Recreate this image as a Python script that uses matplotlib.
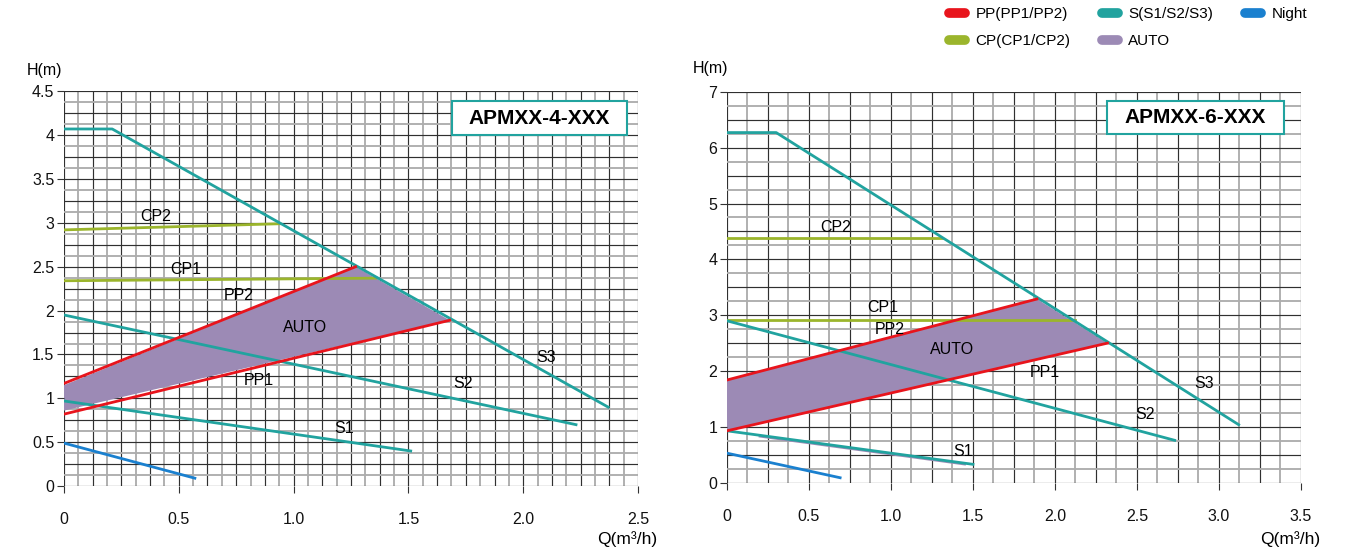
"""Pump performance curves for APMXX-4-XXX and APMXX-6-XXX."""

import matplotlib
matplotlib.use("Agg")
import matplotlib.pyplot as plt
import numpy as np
from matplotlib.lines import Line2D
from matplotlib.patches import Rectangle, Polygon

RED = "#e8141c"
TEAL = "#21a39f"
BLUE = "#1a80cf"
GREEN = "#9bb52c"
PURPLE = "#9c8ab5"

# ---- APMXX-4-XXX ----------------------------------------------------- #
m4_s3_q = [0.0, 0.21, 2.37]
m4_s3_h = [4.07, 4.07, 0.90]
m4_s2_q = [0.0, 2.23]
m4_s2_h = [1.95, 0.70]
m4_s1_q = [0.0, 1.51]
m4_s1_h = [0.97, 0.40]
m4_night_q = [0.0, 0.57]
m4_night_h = [0.49, 0.09]
m4_cp2_q = [0.0, 0.94]
m4_cp2_h = [2.92, 2.99]
m4_cp1_q = [0.0, 1.36]
m4_cp1_h = [2.34, 2.37]
m4_pp2_q = [0.0, 1.27]
m4_pp2_h = [1.17, 2.50]
m4_pp1_q = [0.0, 1.68]
m4_pp1_h = [0.82, 1.89]
m4_auto_q = [0.0, 1.27, 1.68, 0.0]
m4_auto_h = [1.15, 2.50, 1.89, 0.86]

# ---- APMXX-6-XXX ----------------------------------------------------- #
m6_s3_q = [0.0, 0.30, 3.12]
m6_s3_h = [6.27, 6.27, 1.04]
m6_s2_q = [0.0, 2.73]
m6_s2_h = [2.90, 0.76]
m6_s1_q = [0.0, 1.50]
m6_s1_h = [0.93, 0.33]
m6_night_q = [0.0, 0.69]
m6_night_h = [0.53, 0.09]
m6_cp2_q = [0.0, 1.31]
m6_cp2_h = [4.39, 4.39]
m6_cp1_q = [0.0, 2.12]
m6_cp1_h = [2.92, 2.92]
m6_pp2_q = [0.0, 1.89]
m6_pp2_h = [1.84, 3.29]
m6_pp1_q = [0.0, 2.32]
m6_pp1_h = [0.93, 2.50]
m6_auto_q = [0.0, 1.89, 2.32, 0.0]
m6_auto_h = [1.84, 3.29, 2.50, 0.93]
m6_autonight_q = [0.2, 1.45]
m6_autonight_h = [0.83, 0.33]

fig = plt.figure(figsize=(13.5, 5.53), dpi=100)
plt.rcParams["font.family"] = ["Liberation Sans", "DejaVu Sans"]


def setup(ax, xmax, xstep, xmajor, ymax, ystep, ymajor, yticklabels):
    ax.set_xlim(0, xmax)
    ax.set_ylim(0, ymax)
    xs = np.arange(0, xmax + 1e-9, xstep)
    ys = np.arange(0, ymax + 1e-9, ystep)
    for i, x in enumerate(xs):
        c, w = ("#303030", 0.85) if i % 2 == 0 else ("#adadad", 1.35)
        ax.axvline(x, color=c, lw=w, zorder=0)
    for i, y in enumerate(ys):
        c, w = ("#303030", 0.85) if i % 2 == 0 else ("#adadad", 1.35)
        ax.axhline(y, color=c, lw=w, zorder=0)
    for s in ax.spines.values():
        s.set_visible(False)
    xt = np.arange(0, xmax + 1e-9, xmajor)
    ax.set_xticks(xt)
    ax.set_xticklabels(["0"] + [f"{v:.1f}" for v in xt[1:]])
    ax.set_yticks(np.arange(0, ymax + 1e-9, ymajor))
    ax.set_yticklabels(yticklabels)
    ax.tick_params(axis="both", labelsize=11.5, length=5, width=0.8,
                   color="#333333", labelcolor="#111111")
    ax.tick_params(axis="x", pad=14)
    ax.tick_params(axis="y", pad=2)


def curves(ax, d):
    ax.add_patch(Polygon(list(zip(d["auto"][0], d["auto"][1])),
                         closed=True, fc=PURPLE, ec="none", zorder=1))
    for key in ("s3", "s2", "s1"):
        ax.plot(*d[key], color=TEAL, lw=2, zorder=3)
    ax.plot(*d["night"], color=BLUE, lw=2, zorder=3)
    for key in ("cp2", "cp1"):
        ax.plot(*d[key], color=GREEN, lw=2, zorder=2)
    for key in ("pp2", "pp1"):
        ax.plot(*d[key], color=RED, lw=2, zorder=4)


def model_box(ax, x, y, w, h, text):
    ax.add_patch(Rectangle((x, y), w, h, transform=ax.transAxes,
                           fc="white", ec=TEAL, lw=1.5, zorder=5))
    ax.text(x + w / 2, y + h / 2, text, transform=ax.transAxes,
            ha="center", va="center", fontsize=15, weight="bold",
            zorder=6)


def labels(ax, items):
    for txt, x, y in items:
        ax.text(x, y, txt, fontsize=11.5, ha="center", va="center", zorder=6)


# left chart
ax1 = fig.add_axes([0.0474, 0.121, 0.4252, 0.714])
setup(ax1, 2.5, 0.0625, 0.5, 4.5, 0.125, 0.5,
      ["0", "0.5", "1", "1.5", "2", "2.5", "3", "3.5", "4", "4.5"])
curves(ax1, {"s3": (m4_s3_q, m4_s3_h), "s2": (m4_s2_q, m4_s2_h),
             "s1": (m4_s1_q, m4_s1_h), "night": (m4_night_q, m4_night_h),
             "cp2": (m4_cp2_q, m4_cp2_h), "cp1": (m4_cp1_q, m4_cp1_h),
             "pp2": (m4_pp2_q, m4_pp2_h), "pp1": (m4_pp1_q, m4_pp1_h),
             "auto": (m4_auto_q, m4_auto_h)})
labels(ax1, [("CP2", 0.40, 3.07), ("CP1", 0.53, 2.47), ("PP2", 0.76, 2.17),
             ("AUTO", 1.05, 1.81), ("PP1", 0.85, 1.20), ("S1", 1.22, 0.66),
             ("S2", 1.74, 1.17), ("S3", 2.10, 1.46)])
model_box(ax1, 0.676, 0.889, 0.305, 0.086, "APMXX-4-XXX")
fig.text(45 / 1350, 1 - 70 / 553, "H(m)", fontsize=11.5, ha="center",
         va="center")
fig.text(627 / 1350, 1 - 539 / 553, "Q(m³/h)", fontsize=12.5, ha="center",
         va="center")

# right chart
ax2 = fig.add_axes([0.5385, 0.127, 0.4252, 0.707])
setup(ax2, 3.5, 0.125, 0.5, 7, 0.25, 1,
      ["0", "1", "2", "3", "4", "5", "6", "7"])
ax2.plot(m6_autonight_q, m6_autonight_h, color=PURPLE, lw=1.6, zorder=2.5)
curves(ax2, {"s3": (m6_s3_q, m6_s3_h), "s2": (m6_s2_q, m6_s2_h),
             "s1": (m6_s1_q, m6_s1_h), "night": (m6_night_q, m6_night_h),
             "cp2": (m6_cp2_q, m6_cp2_h), "cp1": (m6_cp1_q, m6_cp1_h),
             "pp2": (m6_pp2_q, m6_pp2_h), "pp1": (m6_pp1_q, m6_pp1_h),
             "auto": (m6_auto_q, m6_auto_h)})
labels(ax2, [("CP2", 0.66, 4.57), ("CP1", 0.95, 3.13), ("PP2", 0.99, 2.75),
             ("AUTO", 1.37, 2.39), ("PP1", 1.94, 1.98), ("S1", 1.44, 0.56),
             ("S2", 2.55, 1.22), ("S3", 2.91, 1.78)])
model_box(ax2, 0.662, 0.892, 0.308, 0.085, "APMXX-6-XXX")
fig.text(710 / 1350, 1 - 68 / 553, "H(m)", fontsize=11.5, ha="center",
         va="center")
fig.text(1290 / 1350, 1 - 539 / 553, "Q(m³/h)", fontsize=12.5, ha="center",
         va="center")

# legend
handles = [Line2D([], [], color=RED, lw=7, solid_capstyle="round"),
           Line2D([], [], color=GREEN, lw=7, solid_capstyle="round"),
           Line2D([], [], color=TEAL, lw=7, solid_capstyle="round"),
           Line2D([], [], color=PURPLE, lw=7, solid_capstyle="round"),
           Line2D([], [], color=BLUE, lw=7, solid_capstyle="round")]
names = ["PP(PP1/PP2)", "CP(CP1/CP2)", "S(S1/S2/S3)", "AUTO", "Night"]
fig.legend(handles, names, ncol=3, loc="upper left",
           bbox_to_anchor=(0.693, 1.012), frameon=False, fontsize=11,
           handlelength=1.0, handletextpad=0.7, columnspacing=2.1,
           labelspacing=0.85)

fig.savefig("out.png", dpi=100)
